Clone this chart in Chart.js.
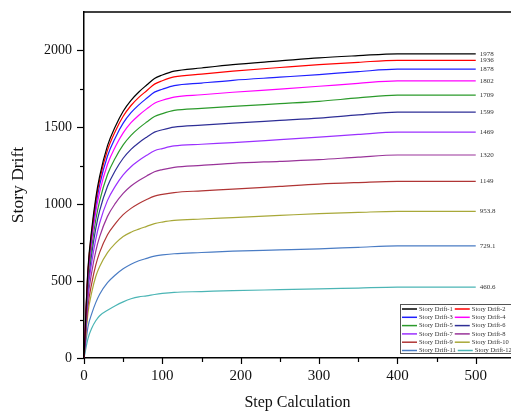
<!DOCTYPE html>
<html>
<head>
<meta charset="utf-8">
<script src="https://cdn.jsdelivr.net/npm/chart.js@4.4.0/dist/chart.umd.min.js"></script>
<style>
  html, body { margin: 0; padding: 0; background: #fff; }
  #wrap { width: 511px; height: 412px; }
</style>
</head>
<body>
<div id="wrap"><canvas id="chart" width="511" height="412"></canvas></div>
<script>
const steps = [0, 5, 10, 15, 20, 30, 40, 50, 60, 70, 80, 90, 100, 115, 150, 190, 250, 300, 350, 400, 450, 500];

const drift1 = [0, 574, 843, 1040, 1183, 1381, 1506, 1605, 1676, 1730, 1775, 1818, 1840, 1865, 1886, 1908, 1932, 1952, 1966, 1978, 1978, 1978];
const drift2 = [0, 562, 825, 1018, 1159, 1352, 1475, 1572, 1642, 1695, 1738, 1781, 1803, 1828, 1846, 1865, 1889, 1908, 1923, 1936, 1936, 1936];
const drift3 = [0, 546, 802, 989, 1126, 1314, 1433, 1527, 1595, 1646, 1689, 1729, 1748, 1771, 1788, 1806, 1826, 1843, 1862, 1878, 1878, 1878];
const drift4 = [0, 524, 769, 949, 1080, 1260, 1374, 1464, 1530, 1579, 1620, 1657, 1676, 1697, 1712, 1728, 1749, 1767, 1786, 1802, 1802, 1802];
const drift5 = [0, 496, 728, 898, 1022, 1193, 1301, 1386, 1448, 1495, 1534, 1570, 1589, 1610, 1623, 1636, 1654, 1669, 1691, 1709, 1709, 1709];
const drift6 = [0, 464, 682, 842, 958, 1117, 1219, 1299, 1357, 1400, 1436, 1469, 1484, 1501, 1514, 1527, 1545, 1560, 1581, 1599, 1599, 1599];
const drift7 = [0, 426, 626, 772, 878, 1025, 1118, 1191, 1244, 1284, 1318, 1348, 1362, 1379, 1390, 1401, 1420, 1436, 1454, 1469, 1469, 1469];
const drift8 = [0, 383, 562, 694, 789, 921, 1005, 1070, 1118, 1154, 1184, 1211, 1225, 1240, 1253, 1266, 1279, 1290, 1306, 1320, 1320, 1320];
const drift9 = [0, 333, 489, 604, 687, 802, 874, 932, 973, 1005, 1031, 1053, 1064, 1076, 1087, 1098, 1116, 1131, 1141, 1149, 1149, 1149];
const drift10 = [0, 290, 430, 530, 595, 685, 745, 790, 818, 838, 856, 874, 884, 895, 904, 913, 927, 939, 947, 953.8, 953.8, 953.8];
const drift11 = [0, 200, 290, 360, 415, 490, 540, 580, 610, 632, 648, 663, 670, 678, 686, 695, 703, 710, 720, 729.1, 729.1, 729.1];
const drift12 = [0, 125, 195, 242, 275, 310, 340, 365, 385, 398, 404, 413, 420, 427, 432, 438, 444, 449, 455, 460.6, 460.6, 460.6];

const seriesNames = ['Story Drift-1', 'Story Drift-2', 'Story Drift-3', 'Story Drift-4', 'Story Drift-5', 'Story Drift-6',
    'Story Drift-7', 'Story Drift-8', 'Story Drift-9', 'Story Drift-10', 'Story Drift-11', 'Story Drift-12'];
const endLabels = ['1978', '1936', '1878', '1802', '1709', '1599', '1469', '1320', '1149', '953.8', '729.1', '460.6'];
const xTicks = [0, 50, 100, 150, 200, 250, 300, 350, 400, 450, 500];
const yTicks = [0, 250, 500, 750, 1000, 1250, 1500, 1750, 2000];

const colors = ['#000000', '#ff0000', '#1f1fff', '#ff00ff', '#2b9a2b', '#2e2e96',
    '#9b30ff', '#993399', '#b03535', '#a8a838', '#4a7cc4', '#4bb5b5'];

const allSeries = [drift1, drift2, drift3, drift4, drift5, drift6, drift7, drift8, drift9, drift10, drift11, drift12];
const serif = "'Liberation Serif', 'DejaVu Serif', serif";

const datasets = allSeries.map((values, i) => ({
    label: seriesNames[i],
    data: values.map((v, j) => ({ x: steps[j], y: v })),
    borderColor: colors[i],
    borderWidth: 1.2,
    pointRadius: 0,
    cubicInterpolationMode: 'monotone',
    fill: false
}));

// ticks, top frame, end-value labels and the boxed legend
const decorations = {
    id: 'decorations',
    afterDraw(chart) {
        const { ctx, chartArea: a, scales: { x, y } } = chart;
        ctx.save();
        ctx.strokeStyle = '#000';
        ctx.lineWidth = 1.5;
        ctx.beginPath();
        ctx.moveTo(a.left, a.top);
        ctx.lineTo(a.right, a.top);
        ctx.stroke();

        ctx.lineWidth = 1.2;
        xTicks.forEach(v => {
            const px = Math.round(x.getPixelForValue(v)) + 0.5;
            const len = v % 100 === 0 ? 6 : 4;
            ctx.beginPath();
            ctx.moveTo(px, a.bottom);
            ctx.lineTo(px, a.bottom + len);
            ctx.stroke();
        });
        yTicks.forEach(v => {
            const py = Math.round(y.getPixelForValue(v)) + 0.5;
            const len = v % 500 === 0 ? 7 : 4;
            ctx.beginPath();
            ctx.moveTo(a.left, py);
            ctx.lineTo(a.left - len, py);
            ctx.stroke();
        });

        // value labels at the end of each line
        ctx.fillStyle = '#333';
        ctx.font = '7px ' + serif;
        ctx.textAlign = 'left';
        ctx.textBaseline = 'middle';
        chart.data.datasets.forEach((ds, i) => {
            const last = chart.getDatasetMeta(i).data.at(-1);
            ctx.fillText(endLabels[i], last.x + 4, last.y);
        });

        // legend box
        const bx = 400.5, by = 304.5, bw = 120, bh = 49;
        ctx.fillStyle = '#fff';
        ctx.fillRect(bx, by, bw, bh);
        ctx.strokeStyle = '#555';
        ctx.lineWidth = 1;
        ctx.strokeRect(bx, by, bw, bh);
        ctx.font = '6.5px ' + serif;
        for (let r = 0; r < 6; r++) {
            const ry = 309 + r * 8.3;
            let cx = 402;
            for (let c = 0; c < 2; c++) {
                const i = r * 2 + c;
                ctx.strokeStyle = colors[i];
                ctx.lineWidth = 1.5;
                ctx.beginPath();
                ctx.moveTo(cx, ry);
                ctx.lineTo(cx + 15, ry);
                ctx.stroke();
                ctx.fillStyle = '#333';
                ctx.fillText(seriesNames[i], cx + 17, ry);
                cx = Math.max(453, cx + 17 + ctx.measureText(seriesNames[i]).width + 2);
            }
        }
        ctx.restore();
    }
};

new Chart(document.getElementById('chart'), {
    type: 'line',
    data: { datasets },
    options: {
        responsive: false,
        animation: false,
        layout: { padding: { top: 12, right: 0, left: 0, bottom: 0 } },
        plugins: { legend: { display: false }, tooltip: { enabled: false } },
        scales: {
            x: {
                type: 'linear',
                min: 0,
                max: 545,
                afterBuildTicks: s => { s.ticks = xTicks.map(v => ({ value: v })); },
                afterFit: s => { s.height = 54; s.paddingLeft = 0; s.paddingRight = 0; },
                grid: { display: false, drawTicks: false },
                border: { display: true, color: '#000', width: 1.5 },
                ticks: {
                    autoSkip: false,
                    maxRotation: 0,
                    padding: 9,
                    color: '#111',
                    font: { family: serif, size: 15 },
                    callback: v => (v % 100 === 0 ? v : '')
                },
                title: {
                    display: true,
                    text: 'Step Calculation',
                    color: '#111',
                    font: { family: serif, size: 16 },
                    padding: { top: 0, bottom: 0 }
                }
            },
            y: {
                type: 'linear',
                min: 0,
                max: 2250,
                afterBuildTicks: s => { s.ticks = yTicks.map(v => ({ value: v })); },
                afterFit: s => { s.width = 84; s.paddingTop = 0; s.paddingBottom = 0; },
                grid: { display: false, drawTicks: false },
                border: { display: true, color: '#000', width: 1.5 },
                ticks: {
                    autoSkip: false,
                    padding: 12,
                    color: '#111',
                    font: { family: serif, size: 14 },
                    callback: v => (v % 500 === 0 ? v : '')
                },
                title: {
                    display: true,
                    text: 'Story Drift',
                    color: '#111',
                    font: { family: serif, size: 17.5 },
                    padding: { top: 8, bottom: 0 }
                }
            }
        }
    },
    plugins: [decorations]
});
</script>
</body>
</html>
